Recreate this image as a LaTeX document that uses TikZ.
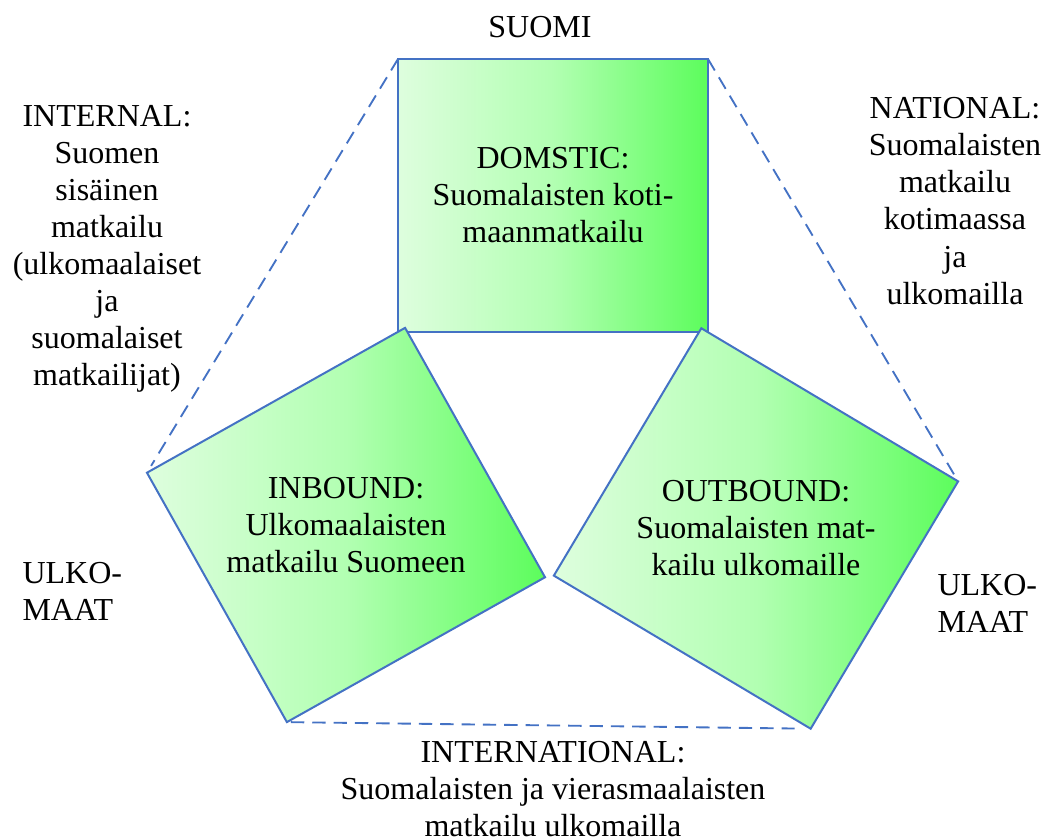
\documentclass[tikz,border=0pt]{standalone}
\usepackage{fontspec}
\setmainfont{Liberation Serif}
\usetikzlibrary{calc,positioning}
\definecolor{boxblue}{RGB}{68,114,196}
\definecolor{paleleaf}{RGB}{222,254,222}
\definecolor{midleaf}{RGB}{178,255,178}
\definecolor{deepleaf}{RGB}{92,253,92}

\begin{document}
\begin{tikzpicture}[x=0.375pt,y=-0.375pt,
    tilestyle/.style={draw=boxblue,line width=0.75pt,left color=paleleaf,right color=deepleaf,middle color=midleaf},
    textstyle/.style={align=center,inner sep=0pt,font=\fontsize{12}{13.9}\selectfont},
    rimstyle/.style={draw=boxblue,line width=0.7pt,dash pattern=on 5pt off 3pt}]
    \useasboundingbox (0,0) rectangle (1049,840);
    \foreach \name/\cx/\cy/\ang/\bw/\bh in {dom/553/195.5/0/310/273,inb/346/525/-29.3/296/286,outb/756/528.5/30.8/299/288} {
        \coordinate (\name-c) at (\cx,\cy);
        \coordinate (\name-1) at ($(\name-c)+(\ang:-\bw/2)+(\ang+90:-\bh/2)$);
        \coordinate (\name-2) at ($(\name-c)+(\ang:\bw/2)+(\ang+90:-\bh/2)$);
        \coordinate (\name-3) at ($(\name-c)+(\ang:\bw/2)+(\ang+90:\bh/2)$);
        \coordinate (\name-4) at ($(\name-c)+(\ang:-\bw/2)+(\ang+90:\bh/2)$);
        \draw[tilestyle] (\name-1) -- (\name-2) -- (\name-3) -- (\name-4) -- cycle;
    }
    \node[textstyle] (dom) at (dom-c) {DOMSTIC:\\Suomalaisten koti-\\maanmatkailu};
    \node[textstyle] (inb) at (inb-c) {INBOUND:\\Ulkomaalaisten\\matkailu Suomeen};
    \node[textstyle] (outb) at (outb-c) {OUTBOUND:\\Suomalaisten mat-\\kailu ulkomaille};
    \draw[rimstyle, shorten >=3pt] (dom-1) -- (inb-1);
    \draw[rimstyle, shorten >=1.5pt] (dom-2) -- (outb-2);
    \draw[rimstyle, shorten <=1.5pt, shorten >=6pt] (inb-4) -- (outb-3);
    \node[textstyle] (suomi) at (540,27) {SUOMI};
    \node[textstyle] (internal) at (107,249) {INTERNAL:\\Suomen\\sisäinen\\matkailu\\(ulkomaalaiset\\ja\\suomalaiset\\matkailijat)};
    \node[textstyle] (national) at (955,201) {NATIONAL:\\Suomalaisten\\matkailu\\kotimaassa\\ja\\ulkomailla};
    \node[textstyle, align=left, anchor=west] (ulkoleft) at (22,591) {ULKO-\\MAAT};
    \node[textstyle, align=left, anchor=west] (ulkoright) at (937,603) {ULKO-\\MAAT};
    \node[textstyle] (intl) at (553,789) {INTERNATIONAL:\\Suomalaisten ja vierasmaalaisten\\matkailu ulkomailla};
\end{tikzpicture}
\end{document}
